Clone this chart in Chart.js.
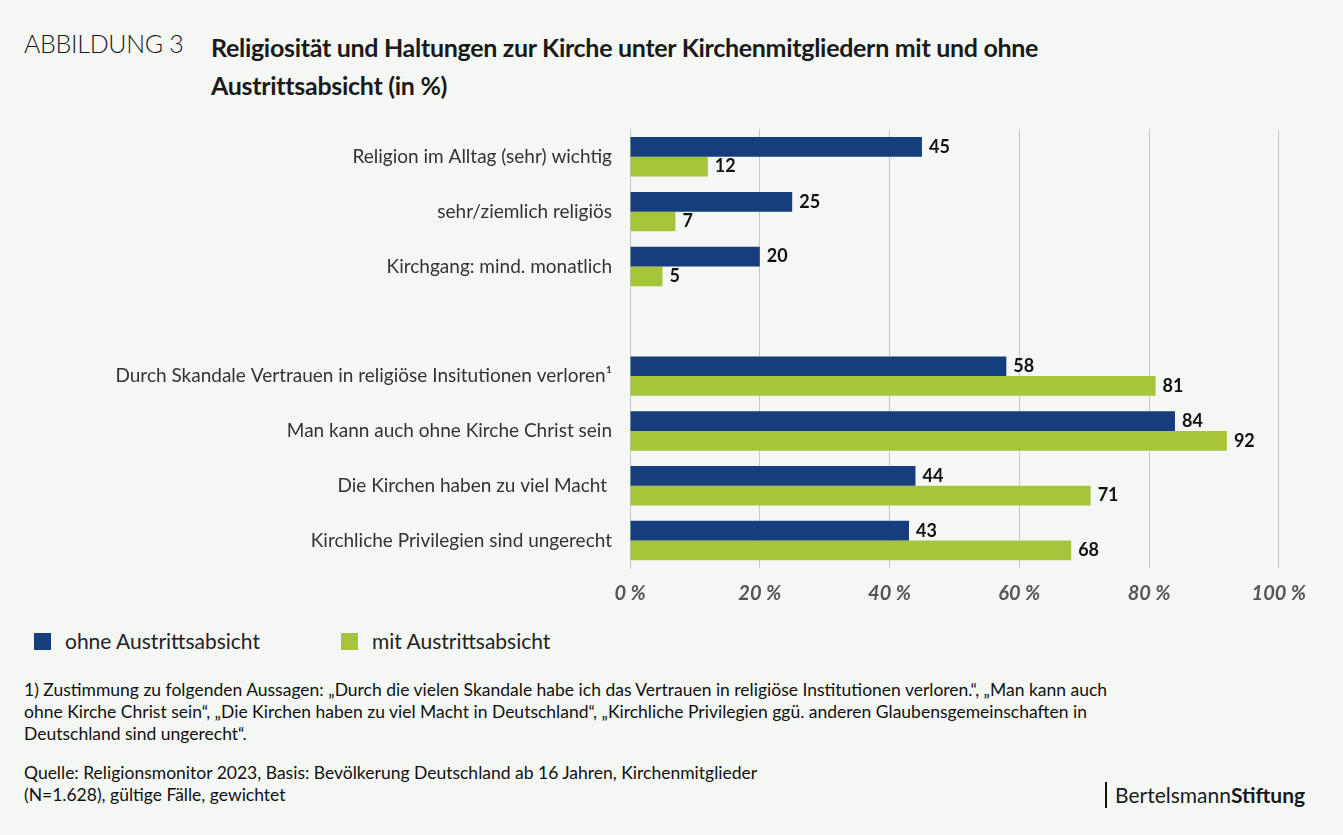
<!DOCTYPE html>
<html>
<head>
<meta charset="utf-8">
<script src="https://cdn.jsdelivr.net/npm/chart.js@4"></script>
<style>
  body { margin: 0; background: #f4f7f3; font-family: Lato, sans-serif; color: #1a1a1a; }
  #wrap { position: relative; width: 1343px; height: 835px; }
  .t1 { position: absolute; left: 24px; top: 28px; font-size: 25px; font-weight: 300; letter-spacing: -0.3px; }
  .t2 { position: absolute; left: 211px; top: 28px; font-size: 25px; font-weight: 700; line-height: 38px; letter-spacing: -0.3px; }
  #box { position: absolute; left: 0; top: 108px; width: 1320px; height: 512px; }
  .legend { position: absolute; top: 628px; font-size: 21px; color: #222; }
  .legend span.sw { display: inline-block; width: 17px; height: 17px; margin-right: 14px; vertical-align: -1px; }
  .note { position: absolute; left: 24px; font-size: 17.5px; line-height: 22px; color: #111; }
  .logo { position: absolute; left: 1105px; top: 782px; font-size: 21px; border-left: 2px solid #111; padding-left: 8px; line-height: 26px; }
</style>
</head>
<body>
<div id="wrap">
  <div class="t1">ABBILDUNG 3</div>
  <div class="t2">Religiosität und Haltungen zur Kirche unter Kirchenmitgliedern mit und ohne<br>Austrittsabsicht (in %)</div>
  <div id="box"><canvas id="c"></canvas></div>
  <div class="legend" style="left:34px"><span class="sw" style="background:#173e7c"></span>ohne Austrittsabsicht</div>
  <div class="legend" style="left:341px"><span class="sw" style="background:#a6c53a"></span>mit Austrittsabsicht</div>
  <div class="note" style="top:679px">1) Zustimmung zu folgenden Aussagen: „Durch die vielen Skandale habe ich das Vertrauen in religiöse Institutionen verloren.“, „Man kann auch<br>ohne Kirche Christ sein“, „Die Kirchen haben zu viel Macht in Deutschland“, „Kirchliche Privilegien ggü. anderen Glaubensgemeinschaften in<br>Deutschland sind ungerecht“.</div>
  <div class="note" style="top:762px">Quelle: Religionsmonitor 2023, Basis: Bevölkerung Deutschland ab 16 Jahren, Kirchenmitglieder<br>(N=1.628), gültige Fälle, gewichtet</div>
  <div class="logo">Bertelsmann<b>Stiftung</b></div>
</div>
<script>
const categories = [
  "Religion im Alltag (sehr) wichtig",
  "sehr/ziemlich religiös",
  "Kirchgang: mind. monatlich",
  "",
  "Durch Skandale Vertrauen in religiöse Insitutionen verloren¹",
  "Man kann auch ohne Kirche Christ sein",
  "Die Kirchen haben zu viel Macht ",
  "Kirchliche Privilegien sind ungerecht"
];
const ohneAustritt = [45, 25, 20, null, 58, 84, 44, 43];
const mitAustritt = [12, 7, 5, null, 81, 92, 71, 68];
const xTicks = [0, 20, 40, 60, 80, 100];

const valueLabels = {
  id: "valueLabels",
  afterDatasetsDraw(chart) {
    const ctx = chart.ctx;
    ctx.save();
    ctx.font = "bold 18px Lato";
    ctx.fillStyle = "#111";
    ctx.textBaseline = "middle";
    chart.data.datasets.forEach((ds, i) => {
      chart.getDatasetMeta(i).data.forEach((bar, j) => {
        if (ds.data[j] == null) return;
        ctx.fillText(ds.data[j], bar.x + 7, bar.y);
      });
    });
    ctx.restore();
  }
};

new Chart(document.getElementById("c"), {
  type: "bar",
  data: {
    labels: categories,
    datasets: [
      { label: "ohne Austrittsabsicht", data: ohneAustritt, backgroundColor: "#173e7c" },
      { label: "mit Austrittsabsicht", data: mitAustritt, backgroundColor: "#a6c53a" }
    ]
  },
  options: {
    indexAxis: "y",
    responsive: true,
    maintainAspectRatio: false,
    animation: false,
    layout: { padding: { top: 6, right: 33 } },
    categoryPercentage: 0.72,
    barPercentage: 1,
    plugins: { legend: { display: false }, tooltip: { enabled: false } },
    scales: {
      x: {
        min: 0, max: 100,
        afterBuildTicks: (axis) => { axis.ticks = xTicks.map(v => ({ value: v })); },
        ticks: { callback: v => v + " %", color: "#555", font: { family: "Lato", size: 20, weight: "bold", style: "italic" }, padding: 14 },
        grid: { color: "#c8c8c8", drawTicks: false },
        border: { display: false }
      },
      y: {
        afterFit: (axis) => { axis.width = 630; },
        ticks: { color: "#333", font: { family: "Lato", size: 19 }, padding: 10 },
        grid: { display: false },
        border: { color: "#c8c8c8" }
      }
    }
  },
  plugins: [valueLabels]
});
</script>
</body>
</html>
